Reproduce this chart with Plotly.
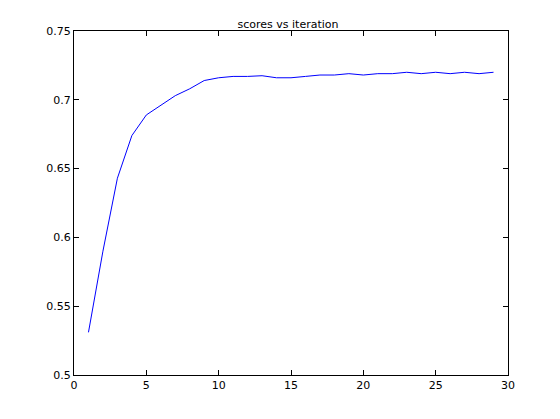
import plotly.graph_objects as go

# scores per iteration
iterations = list(range(1, 30))
scores = [0.531, 0.590, 0.643, 0.674, 0.689, 0.696, 0.703, 0.708, 0.714, 0.716,
          0.717, 0.717, 0.7175, 0.716, 0.716, 0.717, 0.718, 0.718, 0.719, 0.718,
          0.719, 0.719, 0.720, 0.719, 0.720, 0.719, 0.720, 0.719, 0.720]
x_ticks = [0, 5, 10, 15, 20, 25, 30]
y_ticks = [0.5, 0.55, 0.6, 0.65, 0.7, 0.75]
y_labels = ['0.5', '0.55', '0.6', '0.65', '0.7', '0.75']

fig = go.Figure()
fig.add_trace(go.Scatter(x=iterations, y=scores, mode='lines',
                         line=dict(color='#0000ff', width=1)))

axis_style = dict(showline=True, linecolor='black', linewidth=1, mirror='ticks',
                  ticks='inside', ticklen=5, tickcolor='black', showgrid=False,
                  zeroline=False, tickfont=dict(size=11, color='black'))
fig.update_xaxes(range=[0, 30], tickvals=x_ticks, **axis_style)
fig.update_yaxes(range=[0.5, 0.75], tickvals=y_ticks, ticktext=y_labels, **axis_style)

fig.update_layout(
    width=560, height=419,
    margin=dict(l=66, r=60, t=23, b=52),
    paper_bgcolor='white', plot_bgcolor='white',
    font=dict(family='DejaVu Sans', size=11, color='black'),
    title=dict(text='scores vs iteration', x=0.5, xanchor='center', y=0.97,
               font=dict(size=11)),
    showlegend=False,
)

fig.write_html("out.html")
